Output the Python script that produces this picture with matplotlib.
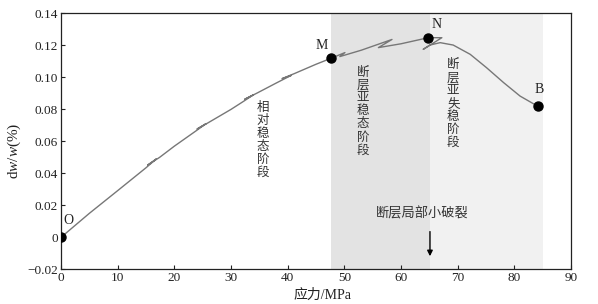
import numpy as np
import matplotlib
matplotlib.use('Agg')
from matplotlib import pyplot as plt

plt.rcParams['mathtext.fontset'] = 'custom'
plt.rcParams['mathtext.it'] = 'Liberation Serif:italic'
plt.rcParams['mathtext.rm'] = 'Liberation Serif'

# curve path (stress in MPa, dw/w in %)
stress = [0, 5, 10, 15, 16.8, 15.3, 17.4, 20, 23.8, 25.6, 24.0, 26.0, 30, 32.2, 34.0, 32.4,
          34.6, 38, 40.6, 39.0, 41.2, 45, 47.7, 50.1, 49.2, 53, 58.4, 56.0, 60, 64.8,
          67.2, 63.9, 65.1, 66.9, 69.2, 72.2, 75.1, 78.1, 81.0, 84.1]
dw = [0, 0.0150, 0.0292, 0.0435, 0.0490, 0.0452, 0.0500, 0.0570, 0.0665, 0.0711, 0.0677, 0.0717,
      0.0800, 0.0850, 0.0892, 0.0863, 0.0902, 0.0965, 0.1012, 0.0992, 0.1024, 0.1082, 0.1120,
      0.1155, 0.1130, 0.1170, 0.1237, 0.1186, 0.1210, 0.1248, 0.1248, 0.1175, 0.1202, 0.1217,
      0.1202, 0.1144, 0.1060, 0.0967, 0.0883, 0.0820]

pt_names = ['O', 'M', 'N', 'B']
pt_x = [0, 47.7, 64.8, 84.1]
pt_y = [0, 0.1120, 0.1248, 0.0820]

stage_edges = [47.7, 65.1, 85.0]
stage_names = ['相对稳态阶段', '断层亚稳态阶段', '断层亚失稳阶段']

serif = ['Liberation Serif', 'DejaVu Serif']
cjk = ['Noto Sans CJK SC', 'DejaVu Sans']

fig = plt.figure(figsize=(5.98, 3.04), dpi=100)
ax = fig.add_axes([0.102, 0.114, 0.853, 0.842])

ax.axvspan(stage_edges[0], stage_edges[1], color='#e3e3e3', lw=0, zorder=0)
ax.axvspan(stage_edges[1], stage_edges[2], color='#f1f1f1', lw=0, zorder=0)

ax.plot(stress, dw, color='#777777', lw=1.0, zorder=2)
ax.plot(pt_x, pt_y, 'o', color='black', ms=6.5, zorder=3)

# point labels
lab_pos = [(1.3, 0.0108), (46.0, 0.1200), (66.3, 0.1333), (84.3, 0.0927)]
for n, (x, y) in zip(pt_names, lab_pos):
    ax.text(x, y, n, fontsize=10, family=serif, ha='center', va='center', color='#222222')

# stage labels (vertical)
txt_pos = [(35.6, 0.061), (53.3, 0.079), (69.2, 0.0836)]
for name, (x, y) in zip(stage_names, txt_pos):
    ax.text(x, y, '\n'.join(name), fontsize=9, family=cjk, ha='center', va='center',
            linespacing=1.0, color='#333333')

ax.text(63.7, 0.0150, '断层局部小破裂', fontsize=9.5, family=cjk, ha='center', va='center', color='#333333')
ax.annotate('', xy=(65.1, -0.0118), xytext=(65.1, 0.0036),
            arrowprops=dict(arrowstyle='-|>', color='black', lw=1.0, mutation_scale=8,
                            shrinkA=0, shrinkB=0))

ax.set_xlim(0, 90)
ax.set_ylim(-0.02, 0.14)
ax.set_xticks(np.arange(0, 91, 10))
ax.set_yticks(np.arange(-0.02, 0.141, 0.02))
ax.set_yticklabels(['−0.02', '0', '0.02', '0.04', '0.06', '0.08', '0.10', '0.12', '0.14'])
ax.tick_params(direction='in', length=3, width=0.8, labelsize=9.5, colors='#222222', pad=2)
for lb in ax.get_xticklabels() + ax.get_yticklabels():
    lb.set_family(serif)
for s in ax.spines.values():
    s.set_linewidth(0.9)
    s.set_color('#222222')

ax.set_xlabel('应力/MPa', fontsize=10, family=['Liberation Serif', 'Noto Sans CJK SC'], color='#222222')
ax.set_ylabel('d$\\mathit{w}$/$\\mathit{w}$(%)', fontsize=11, family=serif, color='#222222')
ax.xaxis.set_label_coords(0.512, -0.075)
ax.yaxis.set_label_coords(-0.074, 0.465)

fig.savefig('out.png', dpi=100)
